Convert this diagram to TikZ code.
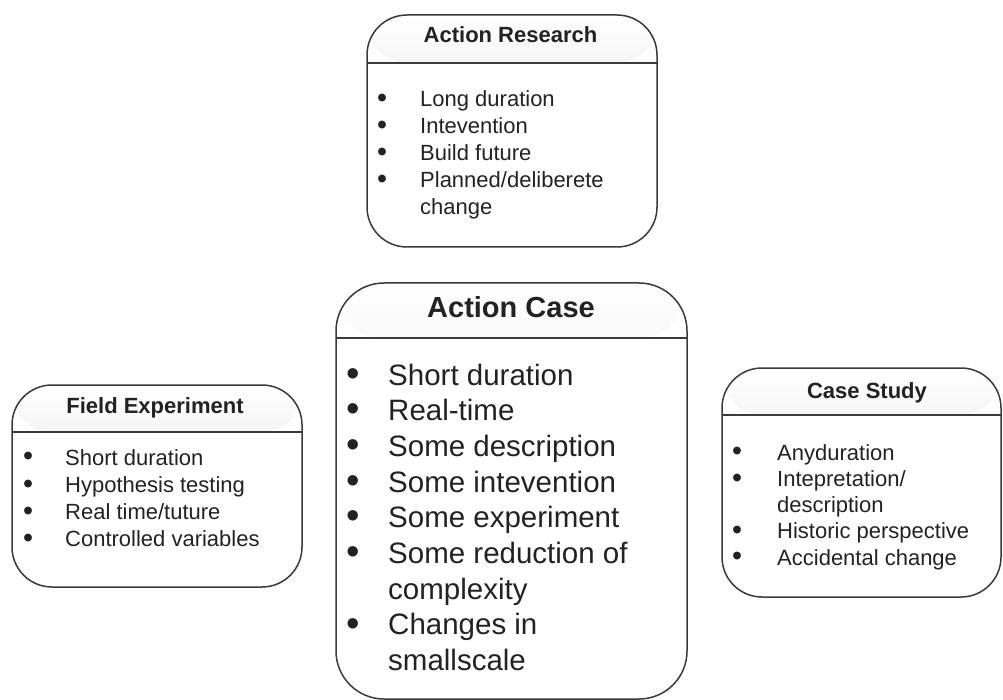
\documentclass[tikz,border=0pt]{standalone}
\usepackage{fontspec}
\setmainfont{Liberation Sans}
\usepackage{xcolor}
\usetikzlibrary{positioning}

\definecolor{boxline}{HTML}{3A3A3A}
\definecolor{headgray}{HTML}{D0D0D0}
\definecolor{ink}{HTML}{222222}

\newcommand{\headh}{48pt}
\newcommand{\bdot}{\smash{\raisebox{-0.04em}{\scalebox{1.3}{\textbullet}}}}
\tikzset{
  hh/.code={\renewcommand{\headh}{#1}},
  panel/.style={draw=boxline, line width=1.5pt, rounded corners=40pt, inner sep=0pt,
    path picture={
      \shade[top color=white, bottom color=headgray]
        (path picture bounding box.north west) rectangle ([yshift=-\headh]path picture bounding box.north east);
      \draw[boxline, line width=1.5pt]
        ([yshift=-\headh]path picture bounding box.north west) -- ([yshift=-\headh]path picture bounding box.north east);
    }},
  header/.style={text=ink, font=\bfseries\fontsize{22}{26}\selectfont, inner sep=0pt, anchor=base},
  items/.style={text=ink, font=\fontsize{22}{27}\selectfont, inner sep=0pt, anchor=base west},
}

\begin{document}
\begin{tikzpicture}[x=1pt, y=-1pt]
    \useasboundingbox (0,0) rectangle (1003,700);

    % Action Research
    \node[panel, hh=48pt, minimum width=290pt, minimum height=232pt] (arbox) at (512,131) {};
    \node[header] (arhead) at (510.5,43) {Action Research};
    \node[items] (arlist) at (377,107) {\begin{tabular}[t]{@{}p{43pt}@{}l@{}}
        \bdot & Long duration\\
        \bdot & Intevention\\
        \bdot & Build future\\
        \bdot & Planned/deliberete\\
              & change
      \end{tabular}};

    % Action Case
    \node[panel, hh=55pt, rounded corners=48pt, minimum width=351pt, minimum height=416pt] (acbox) at (511.5,491) {};
    \node[header, font=\bfseries\fontsize{29}{35}\selectfont] (achead) at (511,317) {Action Case};
    \node[items, font=\fontsize{29.5}{35.7}\selectfont] (aclist) at (346,385) {\begin{tabular}[t]{@{}p{42pt}@{}l@{}}
        \bdot & Short duration\\
        \bdot & Real-time\\
        \bdot & Some description\\
        \bdot & Some intevention\\
        \bdot & Some experiment\\
        \bdot & Some reduction of\\
              & complexity\\
        \bdot & Changes in\\
              & smallscale
      \end{tabular}};

    % Field Experiment
    \node[panel, hh=47pt, minimum width=290pt, minimum height=202pt] (febox) at (157,486) {};
    \node[header] (fehead) at (155,413) {Field Experiment};
    \node[items, font=\fontsize{22}{27.3}\selectfont] (felist) at (23,465) {\begin{tabular}[t]{@{}p{42pt}@{}l@{}}
        \bdot & Short duration\\
        \bdot & Hypothesis testing\\
        \bdot & Real time/tuture\\
        \bdot & Controlled variables
      \end{tabular}};

    % Case Study
    \node[panel, hh=47pt, minimum width=279pt, minimum height=229pt] (csbox) at (861.5,482.5) {};
    \node[header] (cshead) at (867,398) {Case Study};
    \node[items, font=\fontsize{22}{26.25}\selectfont] (cslist) at (732,460) {\begin{tabular}[t]{@{}p{45pt}@{}l@{}}
        \bdot & Anyduration\\
        \bdot & Intepretation/\\
              & description\\
        \bdot & Historic perspective\\
        \bdot & Accidental change
      \end{tabular}};
\end{tikzpicture}
\end{document}
